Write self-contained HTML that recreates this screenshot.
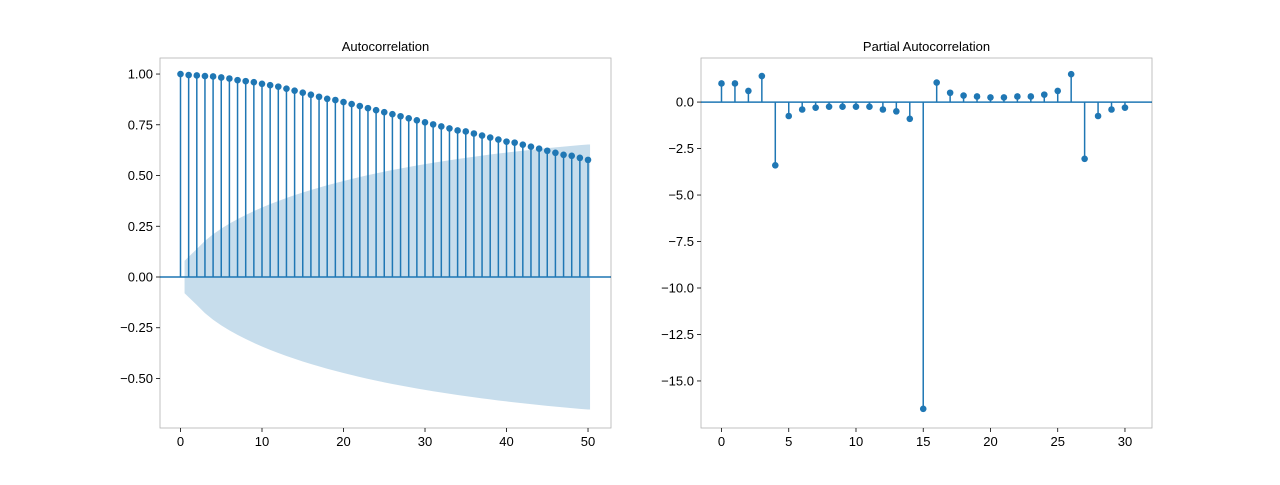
<!DOCTYPE html>
<html><head><meta charset="utf-8"><style>
body{margin:0;background:#fff;}
svg text{font-family:"Liberation Sans","DejaVu Sans",sans-serif;fill:#000;}
</style></head><body>
<svg id="chart" width="1280" height="480" xmlns="http://www.w3.org/2000/svg"></svg>
<script>
const acfLags = Array.from({length:51},(_,i)=>i);
const acfValues = [1.0,0.995,0.993,0.99,0.988,0.983,0.978,0.97,0.965,0.96,0.952,0.945,0.938,0.928,0.918,0.908,0.898,0.888,0.878,0.872,0.862,0.852,0.842,0.832,0.822,0.812,0.802,0.792,0.782,0.772,0.762,0.752,0.742,0.732,0.722,0.717,0.707,0.697,0.687,0.677,0.667,0.662,0.652,0.642,0.632,0.622,0.612,0.602,0.597,0.587,0.577];
const acfSampleSize = 600;
const pacfLags = Array.from({length:31},(_,i)=>i);
const pacfValues = [1.0,1.0,0.6,1.4,-3.4,-0.75,-0.4,-0.3,-0.25,-0.25,-0.25,-0.25,-0.4,-0.5,-0.9,-16.5,1.05,0.5,0.35,0.3,0.25,0.25,0.3,0.3,0.4,0.6,1.5,-3.05,-0.75,-0.4,-0.3];
const acfXTicks = [0,10,20,30,40,50];
const acfYTicks = [-0.5,-0.25,0,0.25,0.5,0.75,1.0];
const acfYLabels = ["−0.50","−0.25","0.00","0.25","0.50","0.75","1.00"];
const pacfXTicks = [0,5,10,15,20,25,30];
const pacfYTicks = [-15,-12.5,-10,-7.5,-5,-2.5,0];
const pacfYLabels = ["−15.0","−12.5","−10.0","−7.5","−5.0","−2.5","0.0"];

const NS="http://www.w3.org/2000/svg";
const svg=document.getElementById('chart');
function mk(tag,attrs,parent){const e=document.createElementNS(NS,tag);for(const k in attrs)e.setAttribute(k,attrs[k]);(parent||svg).appendChild(e);return e;}
const C="#1f77b4";

function panel(name,box,xlim,ylim,lags,vals,xt,yt,yl,title,band){
  const g=mk('g',{});
  
  
  const sx=v=>box.x0+(v-xlim[0])/(xlim[1]-xlim[0])*(box.x1-box.x0);
  const sy=v=>box.y1-(v-ylim[0])/(ylim[1]-ylim[0])*(box.y1-box.y0);
  if(band){
    let cum=0,up=[],lo=[];
    for(let k=1;k<vals.length;k++){
      const se=1.96*Math.sqrt((1+2*cum)/acfSampleSize);
      cum+=vals[k]*vals[k];
      up.push(sx(k===1?0.5:k)+','+sy(se));lo.unshift(sx(k===1?0.5:k)+','+sy(-se));
      if(k===vals.length-1){up.push(sx(k+0.25)+','+sy(se));lo.unshift(sx(k+0.25)+','+sy(-se));}
    }
    const p=mk('polygon',{points:up.concat(lo).join(' '),fill:C,'fill-opacity':0.25,stroke:'none'},g);
    
    
  }
  const base=mk('line',{x1:box.x0,x2:box.x1,y1:sy(0),y2:sy(0),stroke:C,'stroke-width':1.5},g);
  
  
  lags.forEach((l,i)=>{
    const s=mk('line',{x1:sx(l),x2:sx(l),y1:sy(0),y2:sy(vals[i]),stroke:C,'stroke-width':1.5},g);
    
    
    const m=mk('circle',{cx:sx(l),cy:sy(vals[i]),r:3.3,fill:C},g);
    
    
  });
  const fr=mk('rect',{x:box.x0,y:box.y0,width:box.x1-box.x0,height:box.y1-box.y0,fill:'none',stroke:'#000','stroke-width':0.8,'stroke-opacity':0.3},g);
  
  
  xt.forEach(t=>{
    mk('line',{x1:sx(t),x2:sx(t),y1:box.y1,y2:box.y1+4,stroke:'#000','stroke-width':0.8},g);
    const tx=mk('text',{x:sx(t),y:box.y1+18,'text-anchor':'middle','font-size':13},g);
    tx.textContent=t;
    
    
  });
  yt.forEach((t,i)=>{
    mk('line',{x1:box.x0-4,x2:box.x0,y1:sy(t),y2:sy(t),stroke:'#000','stroke-width':0.8},g);
    const tx=mk('text',{x:box.x0-7,y:sy(t)+4.5,'text-anchor':'end','font-size':13},g);
    tx.textContent=yl[i];
    
    
  });
  const tt=mk('text',{x:(box.x0+box.x1)/2,y:box.y0-7,'text-anchor':'middle','font-size':13},g);
  tt.textContent=title;
  
  
}
panel('acf-panel',{x0:160,x1:611,y0:58,y1:428},[-2.515,52.82],[-0.744,1.079],acfLags,acfValues,acfXTicks,acfYTicks,acfYLabels,'Autocorrelation',true);
panel('pacf-panel',{x0:701,x1:1152,y0:58,y1:428},[-1.524,32.01],[-17.53,2.37],pacfLags,pacfValues,pacfXTicks,pacfYTicks,pacfYLabels,'Partial Autocorrelation',false);
</script>
</body></html>
